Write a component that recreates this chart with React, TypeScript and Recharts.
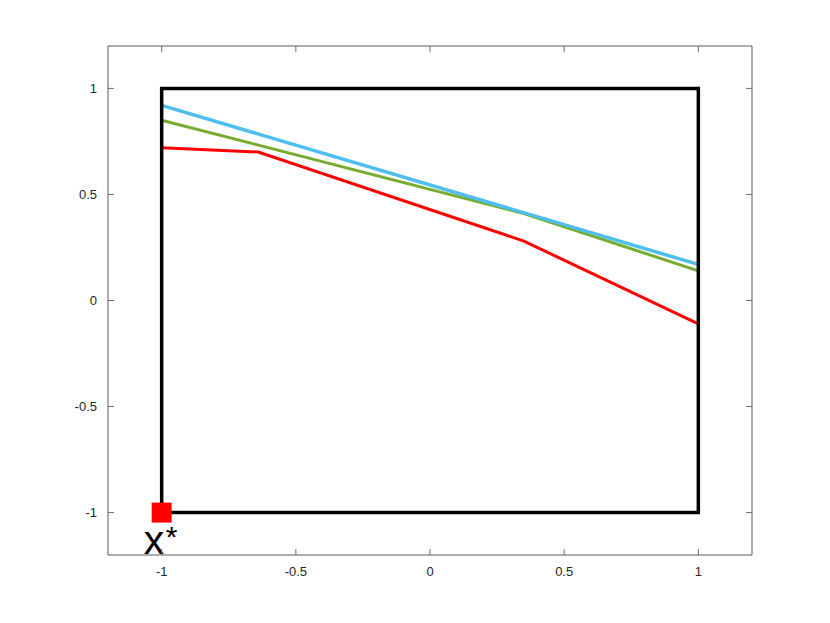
import {
  ComposedChart,
  Line,
  Scatter,
  XAxis,
  YAxis,
} from 'recharts';

// axis ticks
const ticks = [-1, -0.5, 0, 0.5, 1];

// feasible box (drawn as a closed outline)
const boxX = [-1, -1, 1, 1, -1];
const boxY = [-1, 1, 1, -1, -1];

// iterate paths
const redX = [-1, -0.64, 0.35, 1];
const redY = [0.72, 0.7, 0.28, -0.11];

const greenX = [-1, 0.35, 1];
const greenY = [0.85, 0.41, 0.14];

const blueX = [-1, 1];
const blueY = [0.92, 0.17];

// optimum
const optX = [-1];
const optY = [-1];

const zip = (xs: number[], ys: number[]) => xs.map((x, i) => ({ x, y: ys[i] }));

const boxData = zip(boxX, boxY);
const redData = zip(redX, redY);
const greenData = zip(greenX, greenY);
const blueData = zip(blueX, blueY);
const optData = zip(optX, optY);

const axisColor = '#5a5a5a';
const tickColor = '#6e6e6e';
const font = 'Liberation Sans, Arial, sans-serif';
const GAP_X = 12;
const GAP_Y = 11;
const TICK = 6;

// inward (MATLAB-style) ticks, drawn with the labels
const bottomTick = (p: any) => (
  <g>
    <line x1={p.x} x2={p.x} y1={p.y - GAP_X} y2={p.y - GAP_X - TICK} stroke={tickColor} />
    <text x={p.x} y={p.y} dy="0.71em" textAnchor="middle" fontSize={13} fontFamily={font} fill="#262626">
      {p.payload.value}
    </text>
  </g>
);

const leftTick = (p: any) => (
  <g>
    <line x1={p.x + GAP_Y} x2={p.x + GAP_Y + TICK} y1={p.y} y2={p.y} stroke={tickColor} />
    <text x={p.x} y={p.y} dy="0.355em" textAnchor="end" fontSize={13} fontFamily={font} fill="#262626">
      {p.payload.value}
    </text>
  </g>
);

const topTick = (p: any) => <line x1={p.x} x2={p.x} y1={p.y} y2={p.y + TICK} stroke={tickColor} />;

const rightTick = (p: any) => <line x1={p.x} x2={p.x - TICK} y1={p.y} y2={p.y} stroke={tickColor} />;

function OptimumMarker(props: any) {
  const { cx, cy } = props;
  return (
    <g>
      <rect x={cx - 10} y={cy - 10} width={20} height={20} fill="#ff0000" />
      <text x={cx - 18} y={cy + 41} fontSize={41} fontFamily={font} fill="#000">
        x
      </text>
      <text x={cx + 4} y={cy + 34} fontSize={30} fontFamily={font} fill="#000">
        *
      </text>
    </g>
  );
}

export default function App() {
  return (
    <div style={{ position: 'absolute', left: 0, top: 0, background: '#fff' }}>
      <ComposedChart width={830} height={623} margin={{ top: 45, right: 77, bottom: 38, left: 68 }}>
        <XAxis
          xAxisId="b"
          dataKey="x"
          type="number"
          domain={[-1.2, 1.2]}
          ticks={ticks}
          height={30}
          stroke={axisColor}
          tickLine={false}
          tickSize={0}
          tickMargin={GAP_X}
          tick={bottomTick}
          allowDataOverflow
        />
        <XAxis
          xAxisId="t"
          dataKey="x"
          orientation="top"
          type="number"
          domain={[-1.2, 1.2]}
          ticks={ticks}
          height={1}
          stroke={axisColor}
          tickLine={false}
          tickSize={0}
          tickMargin={0}
          tick={topTick}
          allowDataOverflow
        />
        <YAxis
          yAxisId="l"
          dataKey="y"
          type="number"
          domain={[-1.2, 1.2]}
          ticks={ticks}
          width={40}
          stroke={axisColor}
          tickLine={false}
          tickSize={0}
          tickMargin={GAP_Y}
          tick={leftTick}
          allowDataOverflow
        />
        <YAxis
          yAxisId="r"
          dataKey="y"
          orientation="right"
          type="number"
          domain={[-1.2, 1.2]}
          ticks={ticks}
          width={1}
          stroke={axisColor}
          tickLine={false}
          tickSize={0}
          tickMargin={0}
          tick={rightTick}
          allowDataOverflow
        />
        <Scatter
          xAxisId="b"
          yAxisId="l"
          data={optData}
          dataKey="y"
          shape={<OptimumMarker />}
          isAnimationActive={false}
        />
        <Line xAxisId="b" yAxisId="l" data={redData} dataKey="y" stroke="#ff0000" strokeWidth={3} dot={false} isAnimationActive={false} />
        <Line xAxisId="b" yAxisId="l" data={greenData} dataKey="y" stroke="#77ac30" strokeWidth={3} dot={false} isAnimationActive={false} />
        <Line xAxisId="b" yAxisId="l" data={blueData} dataKey="y" stroke="#4dbeee" strokeWidth={3.5} dot={false} isAnimationActive={false} />
        <Line xAxisId="t" yAxisId="r" data={boxData} dataKey="y" stroke="#000" strokeWidth={3.5} dot={false} isAnimationActive={false} />
      </ComposedChart>
    </div>
  );
}
